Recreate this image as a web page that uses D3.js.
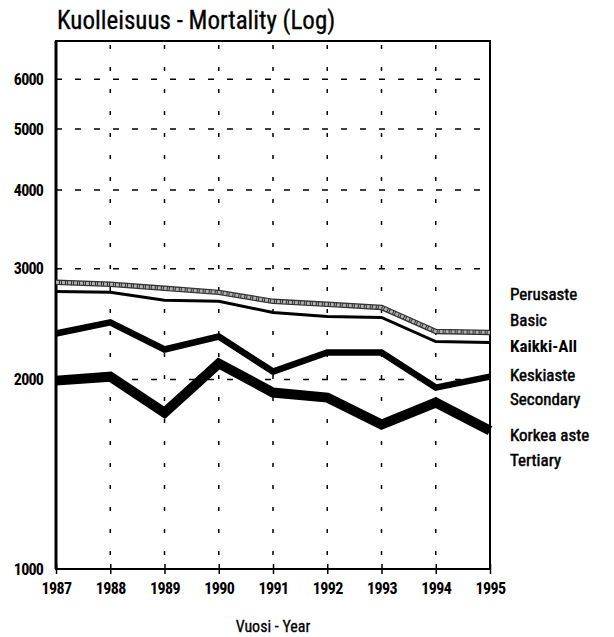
<!DOCTYPE html>
<html>
<head>
<meta charset="utf-8">
<script src="https://cdn.jsdelivr.net/npm/d3@7"></script>
<style>
  body { margin: 0; background: #fff; }
  svg text { font-family: "Liberation Sans Narrow", "Roboto Condensed", "DejaVu Sans Condensed", sans-serif; }
</style>
</head>
<body>
<div id="output"></div>
<script>
var years = [1987, 1988, 1989, 1990, 1991, 1992, 1993, 1994, 1995];
var perusaste = [2854, 2834, 2792, 2751, 2662, 2633, 2604, 2385, 2376];
var kaikki = [2761, 2751, 2672, 2662, 2556, 2519, 2510, 2298, 2290];
var keskiaste = [2367, 2465, 2232, 2341, 2059, 2208, 2208, 1942, 2021];
var korkea = [1992, 2021, 1772, 2121, 1907, 1872, 1696, 1838, 1659];
var yTicks = [1000, 2000, 3000, 4000, 5000, 6000];
var gridTicks = [2000, 3000, 4000, 5000, 6000];

var width = 614;
var height = 637;
// note: "top" is a reserved window property, so plot edges get their own names
var plotL = 56, plotR = 490, plotT = 41, plotB = 569;

var svg = d3.select('#output')
  .append('svg')
  .attr('width', width)
  .attr('height', height);

var x = d3.scaleLinear()
  .domain([1987, 1995])
  .range([plotL, plotR]);

var y = d3.scaleLog()
  .domain([1000, 6900])
  .range([plotB, plotT]);

// title
svg.append('text')
  .attr('x', 57)
  .attr('y', 29)
  .attr('font-size', 25)
  .attr('stroke', '#000')
  .attr('stroke-width', 0.3)
  .text('Kuolleisuus - Mortality (Log)');

// grid
svg.append('g')
  .selectAll('line')
  .data(years.slice(1, -1))
  .enter()
  .append('line')
  .attr('x1', d => x(d)).attr('x2', d => x(d))
  .attr('y1', plotT + 4).attr('y2', plotB)
  .attr('stroke', '#000')
  .attr('stroke-width', 1.5)
  .attr('stroke-dasharray', '4,18');

svg.append('g')
  .selectAll('line')
  .data(gridTicks)
  .enter()
  .append('line')
  .attr('x1', plotL).attr('x2', plotR)
  .attr('y1', d => y(d)).attr('y2', d => y(d))
  .attr('stroke', '#000')
  .attr('stroke-width', 1.5)
  .attr('stroke-dasharray', '6,13');

// frame
svg.append('rect')
  .attr('x', plotL).attr('y', plotT)
  .attr('width', plotR - plotL).attr('height', plotB - plotT)
  .attr('fill', 'none')
  .attr('stroke', '#000')
  .attr('stroke-width', 2);
svg.append('line')
  .attr('x1', plotL).attr('x2', plotL)
  .attr('y1', plotT).attr('y2', plotB)
  .attr('stroke', '#000').attr('stroke-width', 3);

// x axis
var xAxis = d3.axisBottom(x)
  .tickValues(years)
  .tickFormat(d3.format('d'))
  .tickSizeInner(5)
  .tickSizeOuter(0);

var gx = svg.append('g')
  .attr('transform', `translate(0, ${plotB})`)
  .call(xAxis);
gx.select('.domain').remove();
gx.selectAll('.tick line').attr('y1', -5).attr('y2', 5).attr('stroke-width', 1.5);
gx.selectAll('.tick text')
  .attr('y', 14)
  .attr('font-size', 16)
  .attr('font-weight', 'bold')
  .attr('letter-spacing', -0.6)
  .attr('fill', '#000')
  .attr('font-family', '"Liberation Sans Narrow", "Roboto Condensed", sans-serif');

// y axis
var yAxis = d3.axisLeft(y)
  .tickValues(yTicks)
  .tickFormat(d3.format('d'))
  .tickSize(0);

var gy = svg.append('g')
  .attr('transform', `translate(${plotL}, 0)`)
  .call(yAxis);
gy.select('.domain').remove();
gy.selectAll('.tick text')
  .attr('x', -13)
  .attr('font-size', 16)
  .attr('font-weight', 'bold')
  .attr('letter-spacing', -0.8)
  .attr('fill', '#000')
  .attr('font-family', '"Liberation Sans Narrow", "Roboto Condensed", sans-serif');

svg.append('text')
  .attr('x', (plotL + plotR) / 2)
  .attr('y', 632)
  .attr('text-anchor', 'middle')
  .attr('font-size', 16)
  .attr('stroke', '#000')
  .attr('stroke-width', 0.3)
  .text('Vuosi - Year');

// lines
var line = d3.line()
  .x((_, i) => x(years[i]))
  .y(d => y(d));

function drawLine(values, color, w) {
  return svg.append('path')
    .datum(values)
    .attr('d', line)
    .attr('fill', 'none')
    .attr('stroke', color)
    .attr('stroke-width', w)
    .attr('stroke-linejoin', 'miter');
}

drawLine(korkea, '#000', 10);
drawLine(keskiaste, '#000', 6.5);
drawLine(kaikki, '#000', 3);
drawLine(perusaste, '#333', 5.5);
drawLine(perusaste, '#b0b0b0', 3).attr('stroke-dasharray', '3,1,1,1');

// legend
var legendLabels = [
  { t: 'Perusaste', y: 300, b: 'normal' },
  { t: 'Basic', y: 326, b: 'normal' },
  { t: 'Kaikki-All', y: 352, b: 'bold' },
  { t: 'Keskiaste', y: 381, b: 'normal' },
  { t: 'Secondary', y: 405, b: 'normal' },
  { t: 'Korkea aste', y: 441, b: 'normal' },
  { t: 'Tertiary', y: 466, b: 'normal' }
];

svg.append('g')
  .selectAll('text')
  .data(legendLabels)
  .enter()
  .append('text')
  .attr('x', 510)
  .attr('y', d => d.y)
  .attr('font-size', 17)
  .attr('font-weight', d => d.b)
  .attr('stroke', '#000')
  .attr('stroke-width', d => d.b === 'bold' ? 0 : 0.5)
  .text(d => d.t);
</script>
</body>
</html>
